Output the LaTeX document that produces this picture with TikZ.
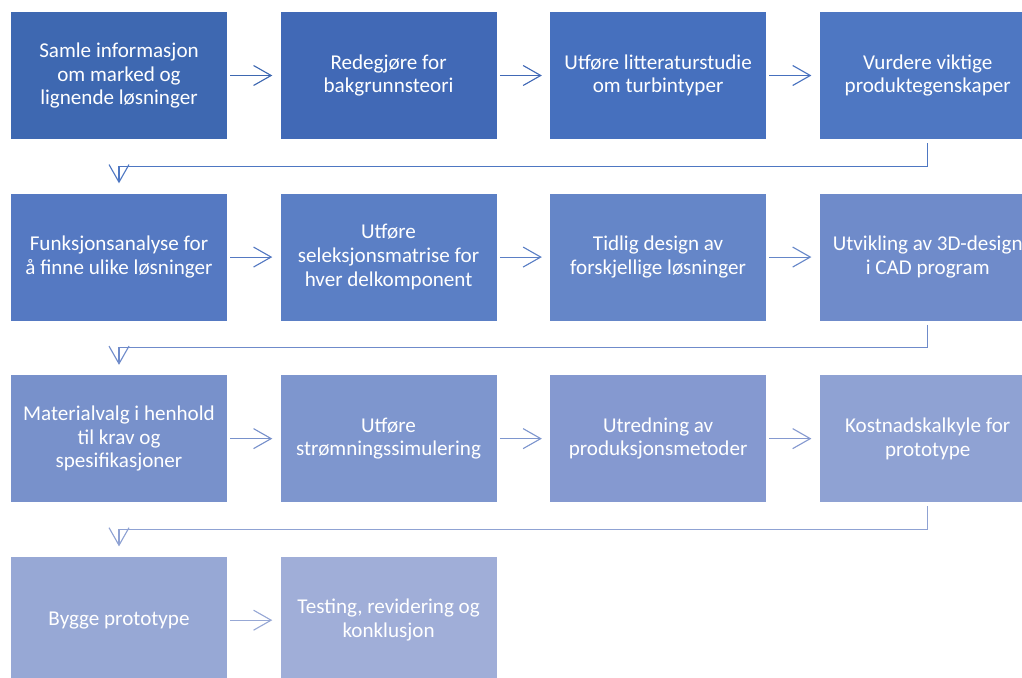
\documentclass[tikz,border=0pt]{standalone}
\usepackage{fontspec}
\setmainfont{Carlito}
\usepackage{tikz}
\usetikzlibrary{
  arrows.meta,
  positioning
}
\definecolor{taskA}{HTML}{3E68B1}
\definecolor{taskB}{HTML}{4169B6}
\definecolor{taskC}{HTML}{4670BE}
\definecolor{taskD}{HTML}{4E77C2}
\definecolor{taskE}{HTML}{5579C2}
\definecolor{taskF}{HTML}{5B7FC5}
\definecolor{taskG}{HTML}{6586C8}
\definecolor{taskH}{HTML}{6F8BCA}
\definecolor{taskI}{HTML}{7891CB}
\definecolor{taskJ}{HTML}{7E96CE}
\definecolor{taskK}{HTML}{8599D0}
\definecolor{taskL}{HTML}{8FA2D3}
\definecolor{taskM}{HTML}{97A8D5}
\definecolor{taskN}{HTML}{A0AED8}

\begin{document}
\begin{tikzpicture}[
    node distance=1.35cm and 1.325cm,
    % Styles
    task/.style={
        rectangle,
        fill=#1, text=white,
        minimum width=5.4cm, minimum height=3.175cm,
        font=\fontsize{15}{16.8}\selectfont,
        align=center
    },
    connector/.style={
        -{Straight Barb[length=0.44cm, width=0.5cm]},
        line width=0.8pt, color=#1
    },
    flow/.style={connector=#1, shorten <=0.075cm, shorten >=0.2cm},
    turn/.style={connector=#1, shorten <=0.1cm, shorten >=0.25cm}
]
\path[use as bounding box, clip] (0,0) rectangle (25.55,-16.95);

% ── ROW 1 ──
\node[task=taskA] (samle) at (2.975,-1.8875) {Samle informasjon\\om marked og\\lignende løsninger};
\node[task=taskB, right=of samle] (redegjore) {Redegjøre for\\bakgrunnsteori};
\node[task=taskC, right=of redegjore] (litteratur) {Utføre litteraturstudie\\om turbintyper};
\node[task=taskD, right=of litteratur] (vurdere) {Vurdere viktige\\produktegenskaper};

\draw[flow=taskA] (samle) -- (redegjore);
\draw[flow=taskB] (redegjore) -- (litteratur);
\draw[flow=taskC] (litteratur) -- (vurdere);

% ── ROW 2 ──
\node[task=taskE, below=of samle] (funksjon) {Funksjonsanalyse for\\å finne ulike løsninger};
\node[task=taskF, right=of funksjon] (seleksjon) {Utføre\\seleksjonsmatrise for\\hver delkomponent};
\node[task=taskG, right=of seleksjon] (tidlig) {Tidlig design av\\forskjellige løsninger};
\node[task=taskH, right=of tidlig] (cad) {Utvikling av 3D-design\\i CAD program};

\draw[turn=taskD] (vurdere.south) -- ++(0,-0.675) -| (funksjon.north);
\draw[flow=taskE] (funksjon) -- (seleksjon);
\draw[flow=taskF] (seleksjon) -- (tidlig);
\draw[flow=taskG] (tidlig) -- (cad);

% ── ROW 3 ──
\node[task=taskI, below=of funksjon] (material) {Materialvalg i henhold\\til krav og\\spesifikasjoner};
\node[task=taskJ, right=of material] (stromning) {Utføre\\strømningssimulering};
\node[task=taskK, right=of stromning] (produksjon) {Utredning av\\produksjonsmetoder};
\node[task=taskL, right=of produksjon] (kostnad) {Kostnadskalkyle for\\prototype};

\draw[turn=taskH] (cad.south) -- ++(0,-0.675) -| (material.north);
\draw[flow=taskI] (material) -- (stromning);
\draw[flow=taskJ] (stromning) -- (produksjon);
\draw[flow=taskK] (produksjon) -- (kostnad);

% ── ROW 4 ──
\node[task=taskM, below=of material] (bygge) {Bygge prototype};
\node[task=taskN, right=of bygge] (testing) {Testing, revidering og\\konklusjon};

\draw[turn=taskL] (kostnad.south) -- ++(0,-0.675) -| (bygge.north);
\draw[flow=taskM] (bygge) -- (testing);

\end{tikzpicture}
\end{document}
